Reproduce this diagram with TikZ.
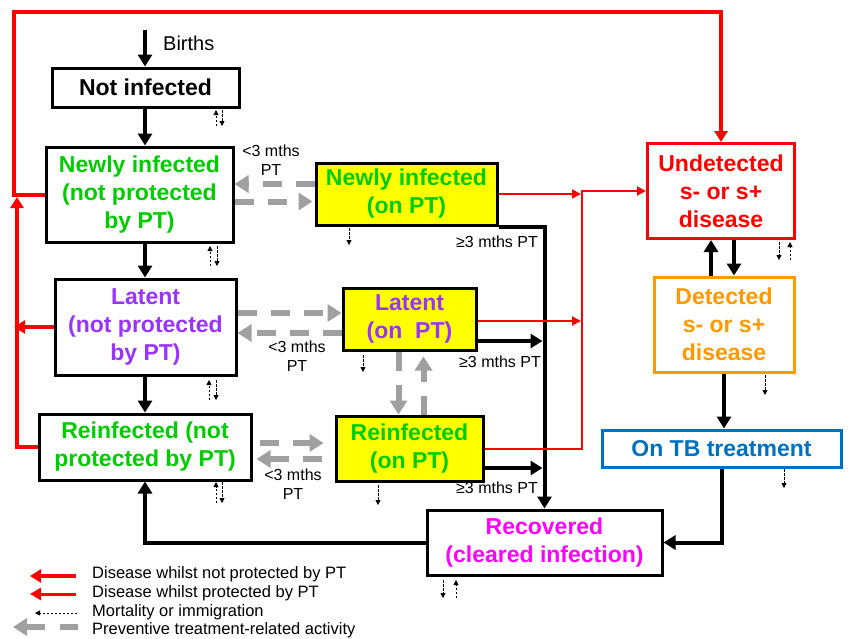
\documentclass[tikz,border=0pt]{standalone}
\usepackage{fontspec}
\setmainfont{Liberation Sans}
\usetikzlibrary{arrows.meta,calc}
\definecolor{cgreen}{RGB}{0,204,0}
\definecolor{cpurple}{RGB}{153,51,255}
\definecolor{cmag}{RGB}{255,0,255}
\definecolor{corange}{RGB}{255,153,0}
\definecolor{cblue}{RGB}{0,112,192}
\definecolor{cgray}{RGB}{160,160,160}
\definecolor{cyel}{RGB}{255,255,0}
\begin{document}
\begin{tikzpicture}[x=1pt,y=-1pt,
  box/.style={draw, line width=3pt, inner sep=0pt, align=center, fill=white,
    font={\fontsize{23}{28}\selectfont\bfseries}},
  barr/.style={line width=4pt, -{Triangle[length=12pt,width=14pt]}},
  rthick/.style={line width=4pt, red, -{Triangle[length=11pt,width=13pt]}},
  rthin/.style={line width=2pt, red, -{Triangle[length=9pt,width=9pt]}},
  gdash/.style={line width=6pt, cgray, dash pattern=on 19pt off 14pt, -{Triangle[length=14pt,width=17pt]}},
  mort/.style={line width=0.8pt, dash pattern=on 2.5pt off 1.5pt, -{Triangle[length=5pt,width=5pt]}},
  lbl/.style={font={\fontsize{16}{19}\selectfont}, align=center, inner sep=0pt},
  leg/.style={font={\fontsize{16.5}{19}\selectfont}, anchor=base west, inner sep=0pt}]
\useasboundingbox (0,0) rectangle (851,638);

% boxes
\node[box, minimum width=187pt, minimum height=39pt] (ni) at (145.5,87.5) {Not infected};
\node[box, text=cgreen, minimum width=187pt, minimum height=95pt] (nn) at (139.5,194.5) {Newly infected\\(not protected\\by PT)};
\node[box, fill=cyel, text=cgreen, minimum width=181pt, minimum height=62pt] (np) at (406.5,194) {Newly infected\\(on PT)};
\node[box, text=cpurple, minimum width=181pt, minimum height=96pt] (ln) at (145.5,327) {Latent\\(not protected\\by PT)};
\node[box, fill=cyel, text=cpurple, minimum width=133pt, minimum height=62pt] (lp) at (409.5,319) {Latent\\(on\ \ PT)};
\node[box, text=cgreen, minimum width=212pt, minimum height=66pt] (rn) at (145,447) {Reinfected (not\\protected by PT)};
\node[box, fill=cyel, text=cgreen, minimum width=147pt, minimum height=65pt] (rp) at (409.5,448.5) {Reinfected\\(on PT)};
\node[box, text=cmag, minimum width=235pt, minimum height=65pt] (rec) at (544.5,542.5) {Recovered\\(cleared infection)};
\node[box, draw=red, text=red, minimum width=147pt, minimum height=95pt] (und) at (721,191) {Undetected\\s- or s+\\disease};
\node[box, draw=corange, text=corange, minimum width=140pt, minimum height=95pt] (det) at (724,324.5) {Detected\\s- or s+\\disease};
\node[box, draw=cblue, text=cblue, minimum width=239pt, minimum height=37pt] (tb) at (721.5,448.5) {On TB treatment};

% black flows
\coordinate (birth) at (145,30);
\draw[barr] (birth) -- (birth |- ni.north);
\node[lbl, font={\fontsize{20}{24}\selectfont}, anchor=west] (bl) at (163,43) {Births};
\draw[barr] (ni.south -| birth) -- (nn.north -| birth);
\draw[barr] (nn.south -| birth) -- (ln.north -| birth);
\draw[barr] (ln.south -| birth) -- (rn.north -| birth);
\draw[barr] (rec.west) -| (rn.south -| birth);
\draw[barr] (tb.south) |- (rec.east);
\draw[barr] ([xshift=-13pt]det.north) -- ([xshift=-13pt]det.north |- und.south);
\draw[barr] ([xshift=13pt]und.south) -- ([xshift=13pt]und.south |- det.north);
\draw[barr] (det.south) -- (det.south |- tb.north);
\draw[barr] (np.south east) -| (rec.north);
\coordinate (lpo) at ([yshift=-22pt]lp.east);
\draw[barr, shorten >=2pt] (lpo) -- (lpo -| rec.north);
\coordinate (rpo) at ([yshift=-19.5pt]rp.east);
\draw[barr, shorten >=2pt] (rpo) -- (rpo -| rec.north);
\node[lbl] (g1) at (497,242) {≥3 mths PT};
\node[lbl] (g2) at (500,362) {≥3 mths PT};
\node[lbl] (g3) at (497,488) {≥3 mths PT};

% red thin (protected)
\coordinate (rv) at (582,191);
\draw[rthin, shorten >=1pt] (np.east) -- (np.east -| rv);
\draw[rthin, shorten >=1pt] ([yshift=-2pt]lp.east) -- ([yshift=-2pt]lp.east -| rv);
\draw[rthin] (rp.east) -| (rv) -- (und.west);

% red thick (not protected)
\coordinate (tl) at (14,12);
\draw[rthick] (nn.west) -| (tl) -| (und.north);
\coordinate (lvtip) at (17,197);
\draw[rthick] (rn.west) -| (lvtip);
\draw[rthick] (ln.west) -- (ln.west -| tl);

% gray dashed (PT activity)
\coordinate (n1) at ([yshift=10pt]np.west);
\draw[gdash] (n1) -- (n1 -| nn.east);
\coordinate (n2) at ([yshift=-7pt]nn.east);
\draw[gdash, shorten >=2pt] (n2) -- (n2 -| np.west);
\coordinate (l1) at ([yshift=14pt]ln.east);
\draw[gdash] (l1) -- (l1 -| lp.west);
\coordinate (l2) at ([yshift=-14pt]lp.west);
\draw[gdash] (l2) -- (l2 -| ln.east);
\coordinate (r1) at ([yshift=4pt]rn.east);
\draw[gdash, shorten <=7pt, shorten >=11pt] (r1) -- (r1 -| rp.west);
\coordinate (r2) at ([yshift=-12pt]rn.east);
\draw[gdash, shorten <=13pt, shorten >=4pt] (r2 -| rp.west) -- (r2);
\draw[gdash] ([xshift=-11pt]lp.south) -- ([xshift=-11pt]rp.north);
\draw[gdash, shorten >=5pt] ([xshift=14pt]rp.north) -- ([xshift=14pt]lp.south);
\node[lbl] (t1) at (271,160) {<3 mths\\PT};
\node[lbl] (t2) at (297,356) {<3 mths\\PT};
\node[lbl] (t3) at (293,484) {<3 mths\\PT};

% mortality / immigration
\draw[mort] (216,126) -- (216,110);
\draw[mort] (222,110) -- (222,126);
\draw[mort] (210,266) -- (210,246);
\draw[mort] (217,246) -- (217,266);
\draw[mort] (349,228) -- (349,245);
\draw[mort] (209,400) -- (209,380);
\draw[mort] (216,380) -- (216,400);
\draw[mort] (363,355) -- (363,372);
\draw[mort] (216,503) -- (216,482);
\draw[mort] (222,482) -- (222,503);
\draw[mort] (378,485) -- (378,505);
\draw[mort] (443,580) -- (443,598);
\draw[mort] (456,598) -- (456,580);
\draw[mort] (779,242) -- (779,260);
\draw[mort] (790,260) -- (790,242);
\draw[mort] (765,375) -- (765,395);
\draw[mort] (784,469) -- (784,488);

% legend
\draw[rthick] (76,576) -- (30,576);
\node[leg] (lg1) at (92,578) {Disease whilst not protected by PT};
\draw[line width=3pt, red, -{Triangle[length=11pt,width=12pt]}] (76,594) -- (30,594);
\node[leg] (lg2) at (92,597) {Disease whilst protected by PT};
\draw[mort] (77,613) -- (35,613);
\node[leg] (lg3) at (92,616) {Mortality or immigration};
\draw[gdash, dash pattern=on 18pt off 15pt] (78,627) -- (13,627);
\node[leg] (lg4) at (92,634) {Preventive treatment-related activity};
\end{tikzpicture}
\end{document}
